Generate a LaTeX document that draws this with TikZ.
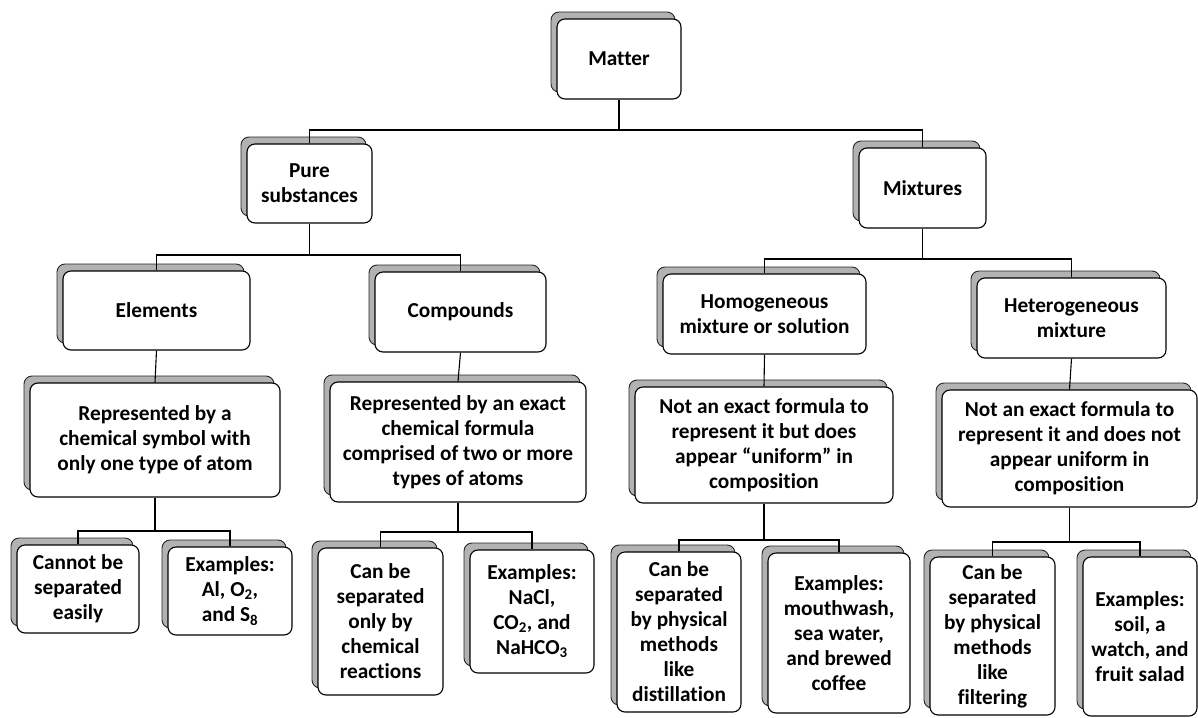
\documentclass[tikz,border=0pt]{standalone}
\usepackage{fontspec}
\setmainfont{Carlito}[Ligatures=NoCommon]
\usetikzlibrary{shadows}
\begin{document}
\begin{tikzpicture}[x=1pt,y=-1pt,
  box/.style={draw=black, line width=1.1pt, rounded corners=8pt, fill=white,
    align=center, inner sep=0pt,
    font={\bfseries\fontsize{21.3}{25}\selectfont},
    copy shadow={shadow xshift=-6pt, shadow yshift=7pt, fill=gray!60, draw=black!85, line width=0.9pt}},
  link/.style={draw=black, line width=1.1pt}]
\useasboundingbox[fill=white] (0,0) rectangle (1198,717);

% level 0-1
\node[box, minimum width=124pt, minimum height=80pt] (matter) at (619,59) {Matter};
\node[box, minimum width=125pt, minimum height=79pt] (pure) at (309.5,183.5) {Pure\\substances};
\node[box, minimum width=127pt, minimum height=80pt] (mixt) at (922.5,188) {Mixtures};

% level 2
\node[box, minimum width=187pt, minimum height=79pt] (elem) at (156.5,310.5) {Elements};
\node[box, minimum width=171pt, minimum height=80pt] (comp) at (460.5,312) {Compounds};
\node[box, minimum width=203pt, minimum height=80pt] (homo) at (764.5,314) {Homogeneous\\mixture or solution};
\node[box, minimum width=189pt, minimum height=80pt] (hete) at (1071.5,318) {Heterogeneous\\mixture};

% level 3
\node[box, minimum width=250pt, minimum height=114pt] (elemB) at (155,440) {Represented by a\\chemical symbol with\\only one type of atom};
\node[box, minimum width=256pt, minimum height=120pt] (compB) at (458,442) {Represented by an exact\\chemical formula\\comprised of two or more\\types of atoms};
\node[box, minimum width=258pt, minimum height=116pt] (homoB) at (764,445) {Not an exact formula to\\represent it but does\\appear “uniform” in\\composition};
\node[box, minimum width=255pt, minimum height=117pt] (heteB) at (1069.5,448.5) {Not an exact formula to\\represent it and does not\\appear uniform in\\composition};

% level 4
\node[box, minimum width=122pt, minimum height=88pt] (cann) at (78,589) {Cannot be\\separated\\easily};
\node[box, minimum width=124pt, minimum height=88pt] (exal) at (230,591) {Examples:\\Al, O\textsubscript{2},\\and S\textsubscript{8}};
\node[box, minimum width=125pt, minimum height=147pt] (chem) at (380.5,621.5) {Can be\\separated\\only by\\chemical\\reactions};
\node[box, minimum width=124pt, minimum height=123pt] (nacl) at (532,611.5) {Examples:\\NaCl,\\CO\textsubscript{2}, and\\NaHCO\textsubscript{3}};
\node[box, minimum width=124pt, minimum height=160pt] (dist) at (679,632) {Can be\\separated\\by physical\\methods\\like\\distillation};
\node[box, minimum width=142pt, minimum height=160pt] (mouth) at (839,633) {Examples:\\mouthwash,\\sea water,\\and brewed\\coffee};
\node[box, minimum width=125pt, minimum height=158pt] (filt) at (992.5,636) {Can be\\separated\\by physical\\methods\\like\\filtering};
\node[box, minimum width=114pt, minimum height=159pt] (soil) at (1140,636.5) {Examples:\\soil, a\\watch, and\\fruit salad};

% connectors
\draw[link] (matter.south) |- (pure.north |- 0,130) -- (pure.north);
\draw[link] (matter.south) |- (mixt.north |- 0,130) -- (mixt.north);
\draw[link] (pure.south) |- (elem.north |- 0,255) -- (elem.north);
\draw[link] (pure.south) |- (comp.north |- 0,255) -- (comp.north);
\draw[link] (mixt.south) |- (homo.north |- 0,259) -- (homo.north);
\draw[link] (mixt.south) |- (hete.north |- 0,259) -- (hete.north);
\draw[link] (elem.south) -- (elemB.north);
\draw[link] (comp.south) -- (compB.north);
\draw[link] (homo.south) -- (homoB.north);
\draw[link] (hete.south) -- (heteB.north);
\draw[link] (elemB.south) |- (cann.north |- 0,531) -- (cann.north);
\draw[link] (elemB.south) |- (exal.north |- 0,531) -- (exal.north);
\draw[link] (compB.south) |- (chem.north |- 0,532) -- (chem.north);
\draw[link] (compB.south) |- (nacl.north |- 0,532) -- (nacl.north);
\draw[link] (homoB.south) |- (dist.north |- 0,540) -- (dist.north);
\draw[link] (homoB.south) |- (mouth.north |- 0,540) -- (mouth.north);
\draw[link] (heteB.south) |- (filt.north |- 0,542) -- (filt.north);
\draw[link] (heteB.south) |- (soil.north |- 0,542) -- (soil.north);
\end{tikzpicture}
\end{document}
